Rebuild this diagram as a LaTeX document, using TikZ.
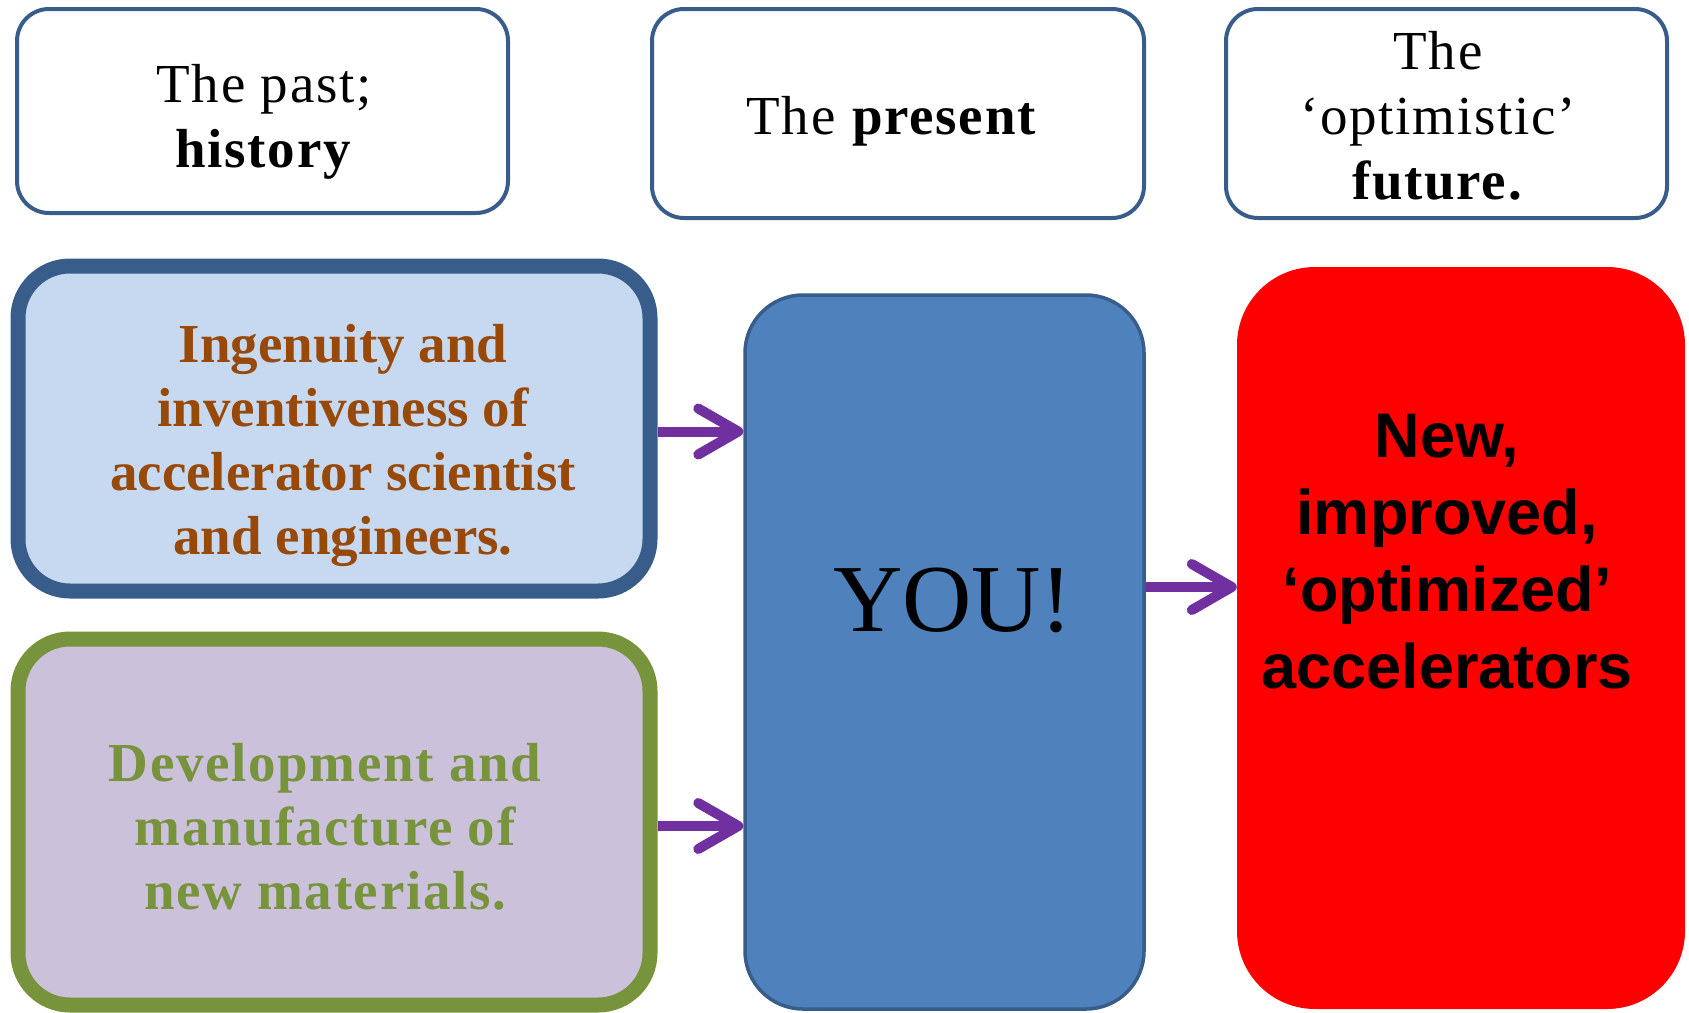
\documentclass[tikz,border=0pt]{standalone}
\usepackage{fontspec}
\setmainfont{Liberation Serif}
\newfontfamily\arialfont{Liberation Sans}
\usetikzlibrary{arrows.meta}
\definecolor{bordblue}{HTML}{385D8A}
\definecolor{lightblue}{HTML}{C6D9F1}
\definecolor{ingbrown}{HTML}{984807}
\definecolor{olive}{HTML}{77933C}
\definecolor{lilac}{HTML}{CCC1DA}
\definecolor{youblue}{HTML}{4F81BD}
\definecolor{arrpurple}{HTML}{7030A0}
\begin{document}
\begin{tikzpicture}[x=1pt,y=-1pt,
  topbox/.style={draw=bordblue, line width=4pt, rounded corners=32pt, fill=white, inner sep=0pt},
  bigbox/.style={line width=15pt, rounded corners=52pt, inner sep=0pt},
  label/.style={align=center, inner sep=0pt},
  toptext/.style={label, font=\fontsize{55}{65}\selectfont\addfontfeature{LetterSpace=3}},
  arr/.style={draw=arrpurple, line width=10pt, -{Straight Barb[length=40pt,width=46pt,round]}}
]
\useasboundingbox (0,0) rectangle (1689,1012);

% top header boxes
\node[topbox, minimum width=491pt, minimum height=204pt] (past) at (262.5,111) {};
\node[topbox, minimum width=492pt, minimum height=209pt] (present) at (898,113.5) {};
\node[topbox, minimum width=441pt, minimum height=209pt] (future) at (1446.5,113.5) {};
\node[toptext] (pastT) at (264,122) {The past;\\\textbf{history}};
\node[toptext] (presentT) at (892,121) {The \textbf{present}};
\node[toptext] (futureT) at (1438,116) {The\\‘optimistic’\\\textbf{future.}};

% left boxes
\node[bigbox, draw=bordblue, fill=lightblue, minimum width=632pt, minimum height=325pt] (ing) at (334,428.5) {};
\node[bigbox, draw=olive, fill=lilac, minimum width=632pt, minimum height=366pt] (dev) at (334,822) {};
\node[label, text=ingbrown, font=\fontsize{55}{64}\selectfont\bfseries] (ingT) at (343,445)
  {Ingenuity and\\inventiveness of\\accelerator scientist\\and engineers.};
\node[label, text=olive, font=\fontsize{55}{64}\selectfont\bfseries\addfontfeature{LetterSpace=3}] (devT) at (325,827)
  {Development and\\manufacture of\\new materials.};

% YOU box
\node[draw=bordblue, line width=3.5pt, fill=youblue, rounded corners=58pt, inner sep=0pt,
  minimum width=399pt, minimum height=714pt] (you) at (944.5,652) {};
\node[label, font=\fontsize{96}{110}\selectfont] (youT) at (953,600) {YOU!};

% red box
\node[fill=red, rounded corners=78pt, inner sep=0pt,
  minimum width=448pt, minimum height=742pt] (acc) at (1461,638) {};
\node[label, font=\arialfont\fontsize{63}{77}\selectfont\bfseries] (accT) at (1447,552)
  {New,\\improved,\\‘optimized’\\accelerators};

% arrows
\coordinate (a1) at ([yshift=-3pt]ing.east);
\coordinate (a2) at ([yshift=-4pt]dev.east);
\draw[arr] (a1) -- (a1 -| you.west);
\draw[arr] (a2) -- (a2 -| you.west);
\coordinate (a3) at (you.east |- 0,587);
\draw[arr] (a3) -- (a3 -| acc.west);
\end{tikzpicture}
\end{document}
